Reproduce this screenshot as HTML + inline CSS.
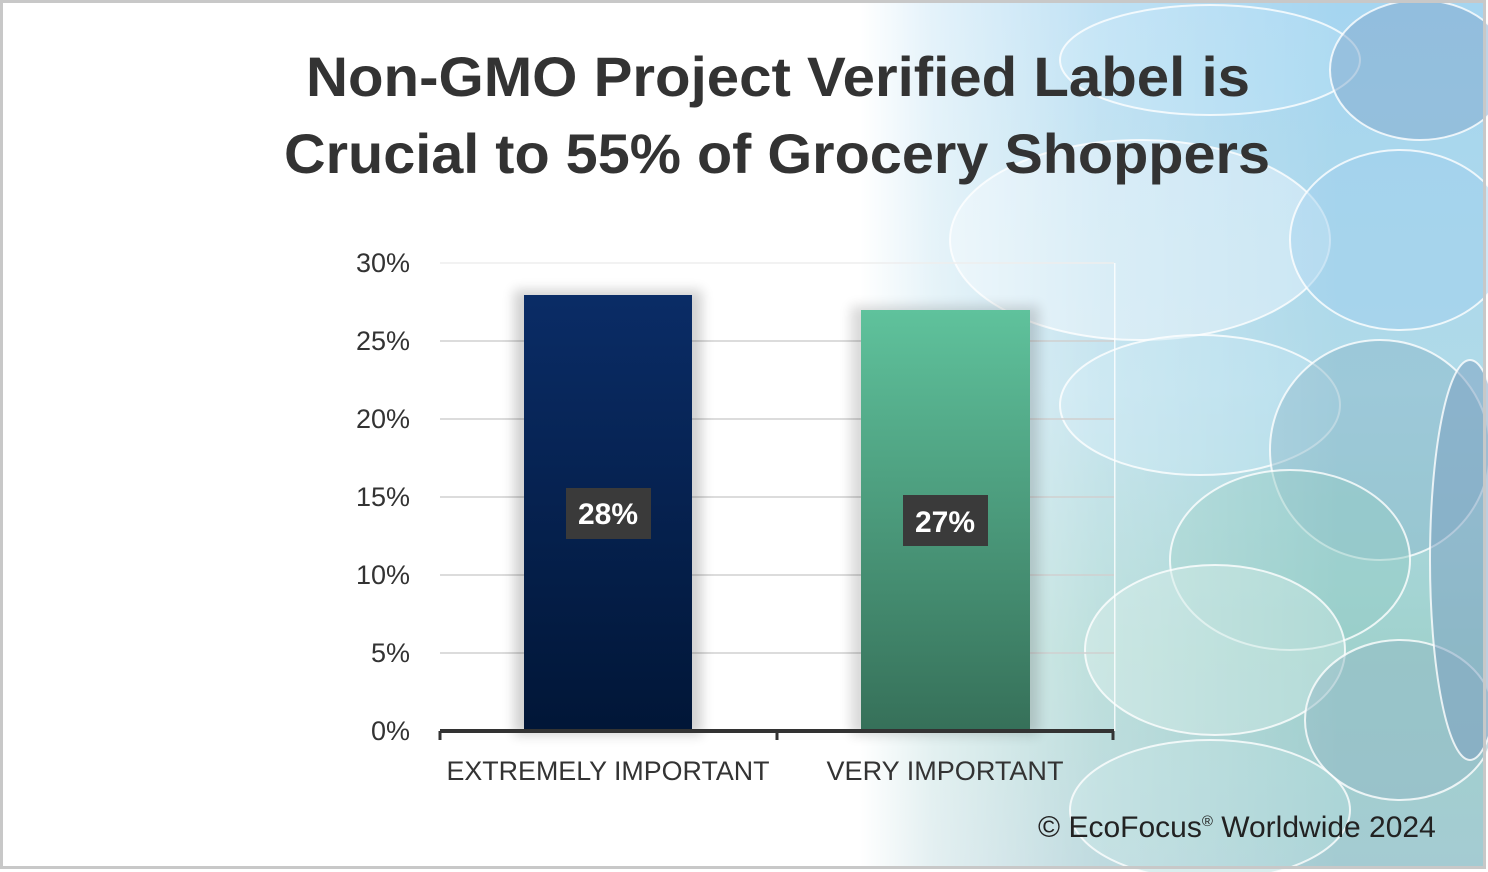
<!DOCTYPE html>
<html><head><style>
html,body{margin:0;padding:0;width:1488px;height:872px;overflow:hidden;background:#fff;font-family:"Liberation Sans",sans-serif;}
</style></head><body>
<svg width="1488" height="872" viewBox="0 0 1488 872" xmlns="http://www.w3.org/2000/svg">
<defs>
<linearGradient id="fade" x1="0" x2="1" y1="0" y2="0">
<stop offset="0" stop-color="#fff" stop-opacity="1"/>
<stop offset="0.15" stop-color="#fff" stop-opacity="0.7"/>
<stop offset="0.5" stop-color="#fff" stop-opacity="0.3"/>
<stop offset="1" stop-color="#fff" stop-opacity="0"/>
</linearGradient>
<linearGradient id="bgc" x1="0" x2="0" y1="0" y2="1">
<stop offset="0" stop-color="#a5d5f0"/>
<stop offset="0.45" stop-color="#b0dae8"/>
<stop offset="0.75" stop-color="#a0d2cd"/>
<stop offset="1" stop-color="#a4cbd2"/>
</linearGradient>
<linearGradient id="b1" x1="0" x2="0" y1="0" y2="1">
<stop offset="0" stop-color="#0a2c66"/><stop offset="1" stop-color="#011637"/>
</linearGradient>
<linearGradient id="b2" x1="0" x2="0" y1="0" y2="1">
<stop offset="0" stop-color="#5fc29c"/><stop offset="1" stop-color="#367059"/>
</linearGradient>
<filter id="sh" x="-20%" y="-20%" width="140%" height="140%"><feGaussianBlur stdDeviation="6"/></filter>
</defs>
<rect x="0" y="0" width="1488" height="872" fill="#fff"/>
<rect x="860" y="3" width="624" height="864" fill="url(#bgc)"/>
<g stroke="#fff" stroke-width="2" stroke-opacity="0.8" fill-opacity="0.5">
<ellipse cx="1210" cy="60" rx="150" ry="55" fill="#b5e0f6"/>
<ellipse cx="1420" cy="70" rx="90" ry="70" fill="#7fa8cc"/>
<ellipse cx="1140" cy="240" rx="190" ry="100" fill="#e8f4fb"/>
<ellipse cx="1400" cy="240" rx="110" ry="90" fill="#9fd0ee"/>
<ellipse cx="1200" cy="405" rx="140" ry="70" fill="#bfe3f1"/>
<ellipse cx="1380" cy="450" rx="110" ry="110" fill="#8ab8c9"/>
<ellipse cx="1290" cy="560" rx="120" ry="90" fill="#94cbc6"/>
<ellipse cx="1215" cy="650" rx="130" ry="85" fill="#c8e6e2"/>
<ellipse cx="1400" cy="720" rx="95" ry="80" fill="#8fb8c4"/>
<ellipse cx="1210" cy="810" rx="140" ry="70" fill="#b5dede"/>
<ellipse cx="1470" cy="560" rx="40" ry="200" fill="#7a9ec0"/>
</g>
<rect x="860" y="3" width="480" height="864" fill="url(#fade)"/>
<rect x="1.5" y="1.5" width="1483" height="866" fill="none" stroke="#c8c8c8" stroke-width="3"/>
<text x="778" y="96" text-anchor="middle" font-size="56" font-weight="bold" fill="#333" textLength="944" lengthAdjust="spacingAndGlyphs">Non-GMO Project Verified Label is</text>
<text x="777" y="173" text-anchor="middle" font-size="56" font-weight="bold" fill="#333" textLength="986" lengthAdjust="spacingAndGlyphs">Crucial to 55% of Grocery Shoppers</text>
<rect x="1114" y="263" width="1.5" height="468" fill="#fff" opacity="0.8"/>
<g stroke="#d0d0d0" stroke-width="1.5">
<line x1="440" x2="1114" y1="263" y2="263" stroke="#eee"/>
<line x1="440" x2="1114" y1="341" y2="341"/>
<line x1="440" x2="1114" y1="419" y2="419"/>
<line x1="440" x2="1114" y1="497" y2="497"/>
<line x1="440" x2="1114" y1="575" y2="575"/>
<line x1="440" x2="1114" y1="653" y2="653"/>
</g>
<g font-size="27" fill="#333" text-anchor="end">
<text x="410" y="272">30%</text><text x="410" y="350">25%</text><text x="410" y="428">20%</text>
<text x="410" y="506">15%</text><text x="410" y="584">10%</text><text x="410" y="662">5%</text><text x="410" y="740">0%</text>
</g>
<rect x="514" y="290" width="188" height="445" fill="#000" opacity="0.18" filter="url(#sh)"/>
<rect x="851" y="306" width="188" height="429" fill="#000" opacity="0.15" filter="url(#sh)"/>
<rect x="524" y="295" width="168" height="436" fill="url(#b1)"/>
<rect x="861" y="310" width="169" height="421" fill="url(#b2)"/>
<line x1="440" x2="1114" y1="731" y2="731" stroke="#333" stroke-width="4"/>
<g stroke="#333" stroke-width="3"><line x1="440" x2="440" y1="731" y2="740"/><line x1="777" x2="777" y1="731" y2="740"/><line x1="1113" x2="1113" y1="731" y2="740"/></g>
<rect x="566" y="488" width="85" height="51" fill="#3a3a3a"/>
<text x="608" y="524" text-anchor="middle" font-size="30" font-weight="bold" fill="#fff">28%</text>
<rect x="903" y="495" width="85" height="51" fill="#3a3a3a"/>
<text x="945" y="532" text-anchor="middle" font-size="30" font-weight="bold" fill="#fff">27%</text>
<g font-size="27" fill="#333" text-anchor="middle">
<text x="608" y="780" textLength="323" lengthAdjust="spacingAndGlyphs">EXTREMELY IMPORTANT</text>
<text x="945" y="780" textLength="237" lengthAdjust="spacingAndGlyphs">VERY IMPORTANT</text>
</g>
<text x="1038" y="837" font-size="30" fill="#222">© EcoFocus<tspan font-size="15" dy="-11">®</tspan><tspan dy="11"> Worldwide 2024</tspan></text>
</svg>
</body></html>
